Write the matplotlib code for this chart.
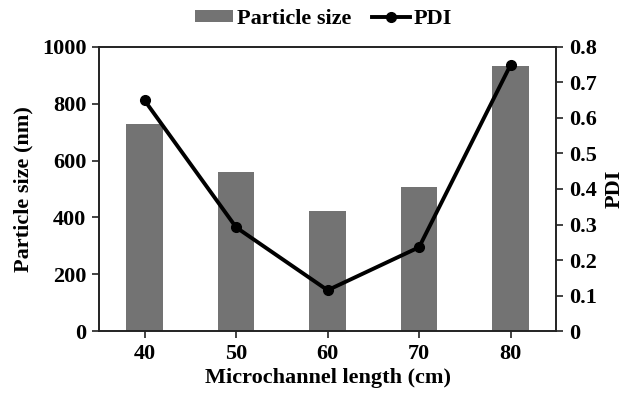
import matplotlib
matplotlib.use("Agg")
import matplotlib.pyplot as plt
import numpy as np

lengths = ["40", "50", "60", "70", "80"]
particle_size = [729, 559, 424, 508, 933]
pdi = [0.649, 0.292, 0.115, 0.236, 0.749]

plt.rcParams['font.family'] = ['Liberation Serif', 'DejaVu Serif']
plt.rcParams['font.weight'] = 'bold'

fig = plt.figure(figsize=(6.3, 3.97), dpi=100)
ax = fig.add_axes([0.157, 0.166, 0.726, 0.716])
x = np.arange(len(lengths))
bars = ax.bar(x, particle_size, width=0.4, color='#737373', label='Particle size', zorder=2)
ax.set_xlim(-0.5, len(lengths) - 0.5)
ax.set_ylim(0, 1000)
ax.set_yticks(np.arange(0, 1001, 200))
ax.set_xticks(x)
ax.set_xticklabels(lengths)
ax.set_xlabel('Microchannel length (cm)', fontsize=16, fontweight='bold', labelpad=3)
ax.set_ylabel('Particle size (nm)', fontsize=16, fontweight='bold', labelpad=6)
ax.tick_params(axis='both', labelsize=16, direction='out', length=5, width=1.2, colors='#222222', pad=4)
for lab in ax.get_xticklabels() + ax.get_yticklabels():
    lab.set_fontweight('bold')
    lab.set_color('black')
for s in ax.spines.values():
    s.set_linewidth(1.2)
    s.set_color('#222222')

ax2 = ax.twinx()
line, = ax2.plot(x, pdi, color='black', lw=2.8, marker='o', markersize=7, label='PDI', zorder=3)
ax2.set_ylim(0, 0.8)
ax2.set_yticks(np.arange(0, 0.81, 0.1))
ax2.set_yticklabels(['0'] + [f'{v:.1f}' for v in np.arange(0.1, 0.81, 0.1)])
ax2.set_ylabel('PDI', fontsize=16, fontweight='bold', labelpad=6)
ax2.tick_params(axis='y', labelsize=16, direction='out', length=5, width=1.2, colors='#222222', pad=4)
for lab in ax2.get_yticklabels():
    lab.set_fontweight('bold')
    lab.set_color('black')
for s in ax2.spines.values():
    s.set_linewidth(1.2)
    s.set_color('#222222')

fig.legend([bars, line], ['Particle size', 'PDI'], loc='center', bbox_to_anchor=(0.514, 0.952),
           ncol=2, frameon=False, prop={'size': 16, 'weight': 'bold'}, handlelength=1.7,
           handleheight=0.45, columnspacing=0.9, handletextpad=0.2, borderpad=0.1)

fig.savefig('out.png', dpi=100)
